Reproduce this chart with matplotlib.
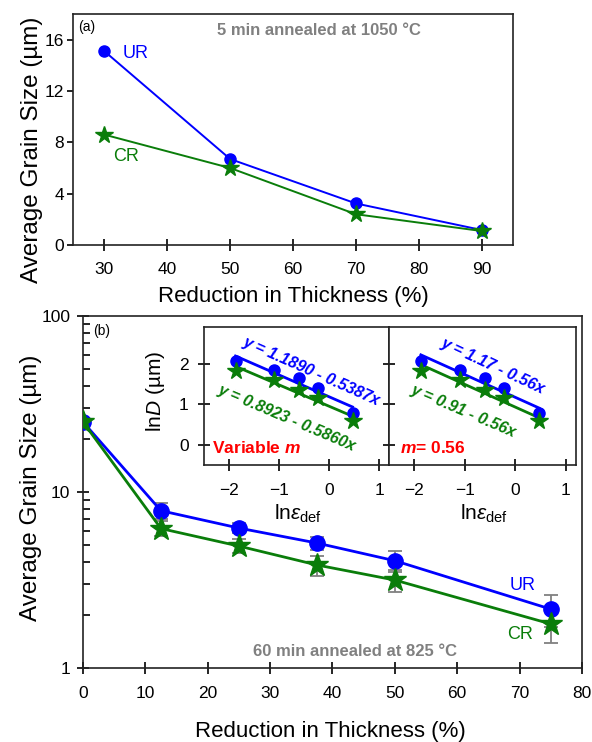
import numpy as np
import matplotlib
matplotlib.use('Agg')
import matplotlib.pyplot as plt

plt.rcParams['font.family'] = ['Liberation Sans', 'DejaVu Sans']
plt.rcParams['mathtext.fontset'] = 'custom'
plt.rcParams['mathtext.rm'] = 'Liberation Sans'
plt.rcParams['mathtext.it'] = 'Liberation Sans:italic'
plt.rcParams['mathtext.bf'] = 'Liberation Sans:italic:bold'

BLUE = '#0000FF'
GREEN = '#0A7D0A'
GRAY = '#808080'

# (a) 5 min annealed at 1050 C
red_a = [30, 50, 70, 90]
ur_a = [15.1, 6.7, 3.24, 1.17]
cr_a = [8.6, 6.0, 2.4, 1.09]

# (b) 60 min annealed at 825 C
red_b = [0, 12.5, 25, 37.5, 50, 75]
ur_b = [25.0, 7.83, 6.24, 5.13, 4.07, 2.16]
cr_b = [25.0, 6.2, 4.93, 3.85, 3.16, 1.78]
ur_err = [0.0, 0.8, 0.4, 0.45, 0.57, 0.45]
cr_err = [0.0, 0.6, 0.45, 0.5, 0.45, 0.39]

# inset: ln of deformation strain for 12.5 ... 75 % reductions
ln_eps = [-1.87, -1.10, -0.61, -0.22, 0.47]
m_fixed = 0.56
eq_ur_var = 'y = 1.1890 - 0.5387x'
eq_cr_var = 'y = 0.8923 - 0.5860x'
eq_ur_fix = 'y = 1.17 - 0.56x'
eq_cr_fix = 'y = 0.91 - 0.56x'

fig = plt.figure(figsize=(5.92, 7.42), dpi=100)

# ---------- panel (a)
ax1 = fig.add_axes([0.1233, 0.6698, 0.7433, 0.3113])
ax1.plot(red_a, ur_a, '-o', color=BLUE, lw=1.4, ms=8)
ax1.plot(red_a, cr_a, '-*', color=GREEN, lw=1.4, ms=13)
ax1.set_xlim(25, 95)
ax1.set_ylim(0, 18)
ax1.set_xticks(range(30, 91, 10))
ax1.set_yticks(range(0, 17, 4))
ax1.tick_params(axis='x', direction='inout', length=8, width=1.2, pad=8, labelsize=12.5)
ax1.tick_params(axis='y', direction='out', length=4, width=1.2, pad=2.5, labelsize=12.5)
ax1.set_xlabel('Reduction in Thickness (%)', fontsize=16)
ax1.set_ylabel('Average Grain Size (µm)', fontsize=17.5)
ax1.xaxis.set_label_coords(0.5, -0.178)
ax1.yaxis.set_label_coords(-0.068, 0.41)
ax1.text(0.012, 0.975, '(a)', transform=ax1.transAxes, fontsize=10, va='top', ha='left')
ax1.text(0.56, 0.93, '5 min annealed at 1050 °C', transform=ax1.transAxes, fontsize=12,
         color=GRAY, fontweight='bold', ha='center', va='center')
ax1.text(34.9, 14.9, 'UR', color=BLUE, fontsize=13, ha='center', va='center')
ax1.text(33.4, 6.9, 'CR', color=GREEN, fontsize=13, ha='center', va='center')
for s in ax1.spines.values():
    s.set_linewidth(1.2)
    s.set_color('#222222')

# ---------- panel (b)
ax2 = fig.add_axes([0.1402, 0.0997, 0.8429, 0.4744])
ax2.errorbar(red_b, ur_b, yerr=ur_err, fmt='-o', color=BLUE, lw=2, ms=11,
             ecolor=GRAY, elinewidth=1.3, capsize=5, capthick=1.3, zorder=3)
ax2.errorbar(red_b, cr_b, yerr=cr_err, fmt='-*', color=GREEN, lw=2, ms=17,
             ecolor=GRAY, elinewidth=1.3, capsize=5, capthick=1.3, zorder=3)
ax2.set_yscale('log')
ax2.set_xlim(0, 80)
ax2.set_ylim(1, 100)
ax2.set_xticks(range(0, 81, 10))
ax2.set_yticks([1, 10, 100])
ax2.set_yticklabels(['1', '10', '100'])
ax2.tick_params(axis='x', direction='inout', length=8, width=1.2, pad=9, labelsize=12.5)
ax2.tick_params(axis='y', which='major', direction='inout', length=8, width=1.2, pad=5, labelsize=12.5)
ax2.tick_params(axis='y', which='minor', direction='in', length=5, width=1.2)
ax2.set_xlabel('Reduction in Thickness (%)', fontsize=16)
ax2.set_ylabel('Average Grain Size (µm)', fontsize=17.5)
ax2.xaxis.set_label_coords(0.495, -0.15)
ax2.yaxis.set_label_coords(-0.082, 0.511)
ax2.text(0.02, 0.978, '(b)', transform=ax2.transAxes, fontsize=10, va='top', ha='left')
ax2.text(0.545, 0.047, '60 min annealed at 825 °C', transform=ax2.transAxes, fontsize=12,
         color=GRAY, fontweight='bold', ha='center', va='center')
ax2.text(70.5, 2.95, 'UR', color=BLUE, fontsize=13, ha='center', va='center')
ax2.text(70.0, 1.55, 'CR', color=GREEN, fontsize=13, ha='center', va='center')
for s in ax2.spines.values():
    s.set_linewidth(1.2)
    s.set_color('#222222')

# ---------- inset
ln_ur = np.log(ur_b[1:])
ln_cr = np.log(cr_b[1:])
x_fit = np.array([ln_eps[0], ln_eps[-1]])

axl = fig.add_axes([0.3446, 0.3733, 0.3125, 0.186])
axr = fig.add_axes([0.6571, 0.3733, 0.3159, 0.186], sharey=axl)

for ax, mode in [(axl, 'var'), (axr, 'fix')]:
    for ln_d, col, mk, ms in [(ln_ur, BLUE, 'o', 8), (ln_cr, GREEN, '*', 13)]:
        if mode == 'var':
            slope, icpt = np.polyfit(ln_eps, ln_d, 1)
        else:
            slope = -m_fixed
            icpt = np.mean(ln_d) + m_fixed * np.mean(ln_eps)
        ax.plot(x_fit, icpt + slope * x_fit, '-', color=col, lw=2, zorder=2)
        ax.plot(ln_eps, ln_d, mk, color=col, ms=ms, zorder=3)
    ax.set_xlim(-2.5, 1.2)
    ax.set_ylim(-0.5, 2.9)
    ax.set_xticks([-2, -1, 0, 1])
    ax.set_yticks([0, 1, 2])
    ax.tick_params(direction='inout', length=8, width=1.2, labelsize=12.5)
    ax.tick_params(axis='x', pad=9)
    ax.tick_params(axis='y', pad=7)
    ax.set_xlabel(r'ln$\varepsilon_{\rm def}$', fontsize=15)
    ax.xaxis.set_label_coords(0.51, -0.27)
    for s in ax.spines.values():
        s.set_linewidth(1.2)
        s.set_color('#222222')
    ax.patch.set_facecolor('white')

axl.set_ylabel(r'ln$D$ (µm)', fontsize=15)
axl.yaxis.set_label_coords(-0.20, 0.53)
axr.tick_params(axis='y', labelleft=False)

eq_style = dict(fontsize=11.5, fontweight='bold', fontstyle='italic', ha='center', va='center')
axl.text(-0.36, 1.80, eq_ur_var, color=BLUE, rotation=-24, **eq_style)
axl.text(-0.85, 0.66, eq_cr_var, color=GREEN, rotation=-23, **eq_style)
axr.text(-0.45, 1.94, eq_ur_fix, color=BLUE, rotation=-25, **eq_style)
axr.text(-1.03, 0.82, eq_cr_fix, color=GREEN, rotation=-23, **eq_style)

red_style = dict(fontsize=12.5, fontweight='bold', color='#FF0000', ha='center', va='center')
axl.text(-1.45, -0.08, r'Variable $\mathbf{m}$', **red_style)
axr.text(-1.63, -0.08, r'$\mathbf{m}$= 0.56', **red_style)

fig.savefig('out.png', dpi=100)
